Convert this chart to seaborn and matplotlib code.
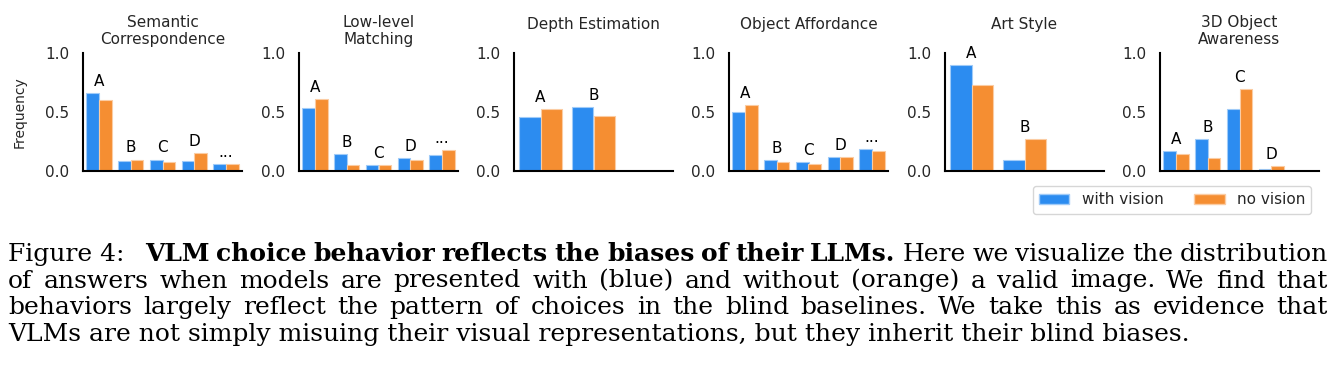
import matplotlib
matplotlib.use('Agg')
import matplotlib.pyplot as plt
import numpy as np
import pandas as pd
import seaborn as sns
from matplotlib.patches import Patch
from matplotlib.colors import to_rgb

# %%
# values (frequency of each answer option)
tasks = ['Semantic\nCorrespondence', 'Low-level\nMatching', 'Depth Estimation',
         'Object Affordance', 'Art Style', '3D Object\nAwareness']
five_options = ['A', 'B', 'C', 'D', '...']
two_options = ['A', 'B']
four_options = ['A', 'B', 'C', 'D']

semantic_vision = [0.660, 0.085, 0.100, 0.085, 0.062]
semantic_blind = [0.605, 0.100, 0.076, 0.153, 0.059]
lowlevel_vision = [0.534, 0.149, 0.056, 0.115, 0.138]
lowlevel_blind = [0.610, 0.056, 0.053, 0.098, 0.178]
depth_vision = [0.460, 0.542]
depth_blind = [0.528, 0.469]
affordance_vision = [0.503, 0.098, 0.076, 0.121, 0.192]
affordance_blind = [0.559, 0.081, 0.059, 0.121, 0.169]
art_vision = [0.898, 0.098]
art_blind = [0.729, 0.271]
object3d_vision = [0.175, 0.274, 0.525, 0.020]
object3d_blind = [0.144, 0.115, 0.695, 0.042]

conditions = ['with vision', 'no vision']
palette = {'with vision': '#2c8cf0', 'no vision': '#f58e32'}

panels = [
    (tasks[0], five_options, semantic_vision, semantic_blind),
    (tasks[1], five_options, lowlevel_vision, lowlevel_blind),
    (tasks[2], two_options, depth_vision, depth_blind),
    (tasks[3], five_options, affordance_vision, affordance_blind),
    (tasks[4], two_options, art_vision, art_blind),
    (tasks[5], four_options, object3d_vision, object3d_blind),
]

caption_lines = [
    [('Figure 4:', 'normal'),
     ('VLM choice behavior reflects the biases of their LLMs.', 'bold'),
     ('Here we visualize the distribution', 'normal')],
    [('of answers when models are presented with (blue) and without (orange) '
      'a valid image. We find that', 'normal')],
    [('behaviors largely reflect the pattern of choices in the blind baselines. '
      'We take this as evidence that', 'normal')],
    [('VLMs are not simply misuing their visual representations, '
      'but they inherit their blind biases.', 'normal')],
]

# %%
sns.set_style('white')
W, H = 1330, 385
fig, axes = plt.subplots(1, 6, figsize=(W / 100, H / 100), dpi=100)

lefts = [83, 299, 514, 729, 945, 1160]
for ax, left in zip(axes, lefts):
    ax.set_position([left / W, (H - 171.3) / H, 159 / W, 118 / H])


def lighten(color, amount=0.55):
    c = np.array(to_rgb(color))
    return tuple(c + (1 - c) * amount)


for ax, (title, opts, vis, blind) in zip(axes, panels):
    n = len(opts)
    df = pd.DataFrame({
        'option': opts * 2,
        'freq': vis + blind,
        'cond': [conditions[0]] * n + [conditions[1]] * n,
    })
    sns.barplot(data=df, x='option', y='freq', hue='cond', order=opts,
                hue_order=conditions, palette=palette, saturation=1,
                width=0.8, errorbar=None, legend=False, ax=ax)
    for p in ax.patches:
        p.set_edgecolor(lighten(p.get_facecolor()))
        p.set_linewidth(0.8)

    # option letters above each pair of bars
    for i, o in enumerate(opts):
        top = max(vis[i], blind[i])
        ax.text(i, top + 0.06, o, ha='center', va='baseline', fontsize=11,
                color='black', clip_on=False)

    ax.set_xlim(-0.5, min(n + 1, 5) - 0.5)
    ax.set_ylim(0, 1.0)
    ax.set_xticks([])
    ax.set_yticks([0, 0.5, 1.0])
    ax.set_yticklabels(['0.0', '0.5', '1.0'])
    ax.tick_params(axis='y', length=0, pad=10, labelsize=11, labelcolor='#262626')
    ax.set_xlabel('')
    ax.set_ylabel('')
    for side in ['top', 'right']:
        ax.spines[side].set_visible(False)
    for side in ['left', 'bottom']:
        ax.spines[side].set_color('black')
        ax.spines[side].set_linewidth(1.5)

    ty = 1.255 if '\n' in title else 1.235
    ax.set_title(title, fontsize=11, color='#262626', y=ty, va='top')

axes[0].set_ylabel('Frequency', fontsize=10, color='#262626')
axes[0].yaxis.set_label_coords((27 - 83) / 159, 0.5)

handles = [Patch(facecolor=palette[c], edgecolor=lighten(palette[c]), label=c)
           for c in conditions]
leg = fig.legend(handles=handles, loc='center', bbox_to_anchor=(1172 / W, 1 - 200 / H),
                 ncol=2, fontsize=11, frameon=True, edgecolor='#cccccc', fancybox=True)
for t in leg.get_texts():
    t.set_color('#262626')

# %%
# caption, justified word by word like the LaTeX original
renderer = fig.canvas.get_renderer()
cap_font = 'DejaVu Serif'
cap_size = 18
x_left, x_right = 8, 1328
baselines = [261, 287.5, 314, 340.5]

for k, (line, base) in enumerate(zip(caption_lines, baselines)):
    y = 1 - base / H
    if k == len(caption_lines) - 1:
        fig.text(x_left / W, y, line[0][0], fontsize=cap_size, family=cap_font,
                 va='baseline', ha='left', color='black')
        continue
    words = [(w, weight) for seg, weight in line for w in seg.split()]
    if words[0][0] == 'Figure':
        words = [('Figure 4:', 'normal')] + words[2:]
    texts = [fig.text(0, y, w, fontsize=cap_size, family=cap_font, weight=wt,
                      va='baseline', ha='left', color='black') for w, wt in words]
    widths = [t.get_window_extent(renderer).width for t in texts]
    gaps = [3 if words[i][0] == 'Figure 4:' else 1 for i in range(len(words) - 1)]
    unit = (x_right - x_left - sum(widths)) / sum(gaps)
    x = x_left
    for i, t in enumerate(texts):
        t.set_x(x / W)
        if i < len(gaps):
            x += widths[i] + gaps[i] * unit

fig.savefig('out.png', dpi=100)
